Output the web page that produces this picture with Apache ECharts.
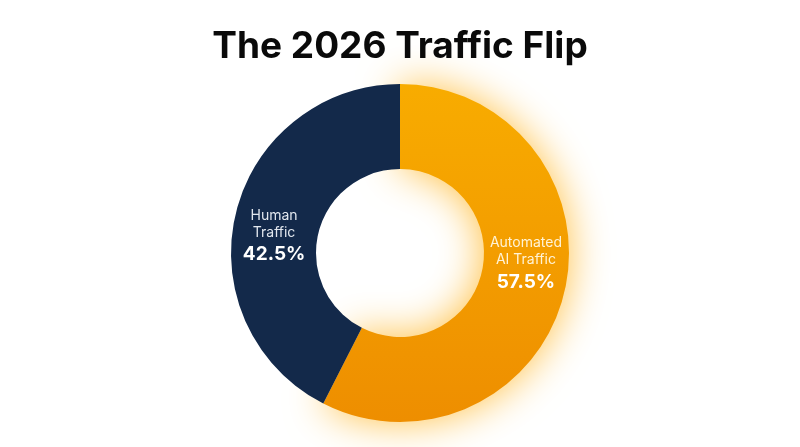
<!DOCTYPE html>
<html>
<head>
<meta charset="utf-8">
<script src="https://cdn.jsdelivr.net/npm/echarts@6/dist/echarts.min.js"></script>
<style>
html,body{margin:0;padding:0;background:#fff;}
#c{width:800px;height:447px;}
</style>
</head>
<body>
<div id="c"></div>
<script>
const titleText = 'The 2026 Traffic Flip';
const categories = ['Automated AI Traffic', 'Human Traffic'];
const labelLines = [['Automated', 'AI Traffic'], ['Human', 'Traffic']];
const values = [57.5, 42.5];

const chart = echarts.init(document.getElementById('c'), null, {renderer: 'canvas'});

const orangeFill = new echarts.graphic.LinearGradient(0, 0, 0, 1, [
  {offset: 0, color: '#F8AC00'},
  {offset: 1, color: '#EE8E00'}
]);
const styles = [
  {color: orangeFill, shadowBlur: 40, shadowColor: 'rgba(255,176,20,0.8)', nameColor: '#FFF3D6'},
  {color: '#13294A', shadowBlur: 0, shadowColor: 'transparent', nameColor: '#E2E7EE'}
];
const labelDy = [-18, 15];

const data = values.map((v, i) => ({
  name: categories[i],
  value: v,
  itemStyle: {
    color: styles[i].color,
    shadowBlur: styles[i].shadowBlur,
    shadowColor: styles[i].shadowColor
  },
  label: {
    formatter: labelLines[i].map(t => '{n|' + t + '}').join('\n') + '\n{p|' + v.toFixed(1) + '%}',
    rich: {
      n: {fontFamily: 'Inter', fontSize: 14, lineHeight: 17, color: styles[i].nameColor, align: 'center'},
      p: {fontFamily: 'Inter', fontSize: 19, fontWeight: 'bold', lineHeight: 27, color: '#FFFFFF', align: 'center'}
    }
  }
}));

chart.setOption({
  animation: false,
  backgroundColor: '#ffffff',
  title: {
    text: titleText,
    left: 'center',
    top: 23,
    textStyle: {fontFamily: 'Inter', fontSize: 37, fontWeight: 'bold', color: '#0A0A0A'}
  },
  series: [{
    type: 'pie',
    center: ['50%', 253],
    radius: [84, 169],
    startAngle: 90,
    clockwise: true,
    avoidLabelOverlap: false,
    emphasis: {disabled: true},
    label: {show: true, position: 'inside', align: 'center'},
    labelLine: {show: false},
    labelLayout: function (p) { return {dy: labelDy[p.dataIndex]}; },
    data: data
  }]
});
</script>
</body>
</html>
